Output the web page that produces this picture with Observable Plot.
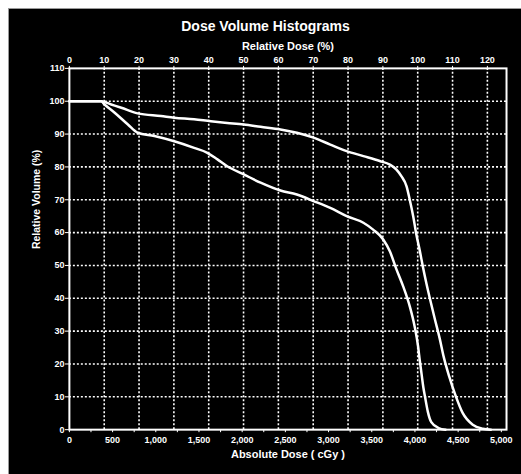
<!DOCTYPE html>
<html>
<head>
<meta charset="utf-8">
<script src="https://cdn.jsdelivr.net/npm/d3@7"></script>
<script src="https://cdn.jsdelivr.net/npm/@observablehq/plot@0.6"></script>
<style>
  html, body { margin: 0; padding: 0; background: #fff; }
  #panel { position: absolute; left: 8px; top: 8px; width: 513px; height: 466px; background: #000;
           border-top: 1px solid #9a9a9a; border-left: 1px solid #9a9a9a; box-sizing: border-box; overflow: hidden; }
  #title { position: absolute; left: 0; width: 513px; top: 9px; text-align: center; color: #fff;
           font: bold 14px "Liberation Sans", Arial, sans-serif; }
  #chart { position: absolute; left: -1px; top: -1px; }
</style>
</head>
<body>
<div id="panel">
  <div id="title">Dose Volume Histograms</div>
  <div id="chart"></div>
</div>
<script>
// Conversion: absolute dose (cGy) corresponding to 100 % relative dose
const prescriptionCGy = 4032;

// Relative-dose ticks (top axis, %) and absolute-dose ticks (bottom axis, cGy)
const relativeTicks = d3.range(0, 121, 10);
const absoluteTicks = d3.range(0, 5001, 250);
const volumeTicks = d3.range(0, 111, 10);

// Upper curve: relative dose (%) vs relative volume (%)
const upperDose = [0, 5, 9.1, 12, 14.9, 19.6, 26.3, 30.1, 35.8, 40.6, 45.3, 50.1, 54.9, 60.6, 65.3, 70.1, 74.9, 79.6, 84.4, 89.1, 92, 93.9, 95.3, 96.8, 97.7, 98.7, 99.6, 100.6, 101.5, 102.5, 103.7, 105, 106.3, 107.5, 109.1, 111, 112.9, 115.8, 118.7, 121];
const upperVol  = [100, 100, 100, 99, 98, 96.3, 95.5, 95, 94.5, 93.9, 93.4, 92.9, 92.2, 91.4, 90.4, 88.9, 86.8, 84.8, 83.3, 81.8, 80.7, 79.2, 77.2, 74.1, 70.1, 65, 59.5, 54.5, 49.5, 44.5, 39, 33.3, 27.8, 22, 16, 10, 5.1, 1.5, 0.3, 0];

// Lower curve
const lowerDose = [0, 5, 9.1, 10.1, 13, 16.8, 19.6, 24.4, 30.1, 35.8, 39.6, 42.5, 45.3, 50.1, 54.9, 60.6, 65.3, 70.1, 74.9, 79.6, 84.4, 87.2, 90.1, 92, 93.9, 95.8, 97.7, 99.1, 100.1, 100.6, 101.1, 101.6, 102.1, 102.9, 103.9, 106, 108];
const lowerVol  = [100, 100, 100, 99, 96.5, 92.9, 90.4, 89.4, 87.8, 85.8, 84.3, 82.3, 80.2, 77.7, 75.2, 72.8, 71.6, 69.6, 67.5, 65, 63, 60.9, 57.9, 54.3, 48.8, 43.7, 37.6, 31.5, 25.4, 21, 17, 13, 10, 5.5, 2.3, 0.5, 0];

const upper = upperDose.map((d, i) => ({dose: d, volume: upperVol[i]}));
const lower = lowerDose.map((d, i) => ({dose: d, volume: lowerVol[i]}));

const fmt = d3.format(",");
const font = '"Liberation Sans", Arial, sans-serif';

const chart = Plot.plot({
  width: 514,
  height: 467,
  marginLeft: 61,
  marginRight: 15,
  marginTop: 60,
  marginBottom: 45,
  style: {background: "transparent", color: "white", fontFamily: font, fontWeight: "bold", fontSize: "9px"},
  x: {domain: [0, 5060 / prescriptionCGy * 100]},
  y: {domain: [0, 110]},
  marks: [
    Plot.gridX(relativeTicks.filter(d => d > 0), {stroke: "white", strokeOpacity: 1, strokeWidth: 1.6, strokeDasharray: "2,2"}),
    Plot.gridY(volumeTicks.filter(d => d > 0 && d < 110), {stroke: "white", strokeOpacity: 1, strokeWidth: 1.6, strokeDasharray: "2,2"}),
    Plot.axisX(relativeTicks, {anchor: "top", tickSize: 3, tickPadding: 2, label: null, stroke: "white"}),
    Plot.axisX(absoluteTicks.map(c => c / prescriptionCGy * 100), {
      anchor: "bottom", tickSize: 3, tickPadding: 4, label: null, stroke: "white",
      tickFormat: d => { const c = Math.round(d * prescriptionCGy / 100 / 250) * 250; return c % 500 === 0 ? fmt(c) : ""; }
    }),
    Plot.axisY(volumeTicks, {anchor: "left", tickSize: 4, tickPadding: 1, label: null, stroke: "white"}),
    Plot.frame({stroke: "white", strokeWidth: 2}),
    Plot.line(upper, {x: "dose", y: "volume", stroke: "white", strokeWidth: 2.5, curve: "monotone-x"}),
    Plot.line(lower, {x: "dose", y: "volume", stroke: "white", strokeWidth: 2.5, curve: "monotone-x"}),
    Plot.text(["Relative Dose (%)"], {frameAnchor: "top", dy: -22, lineAnchor: "middle", fill: "white", fontSize: 11, fontWeight: "bold"}),
    Plot.text(["Absolute Dose ( cGy )"], {frameAnchor: "bottom", dy: 25, lineAnchor: "middle", fill: "white", fontSize: 11, fontWeight: "bold"}),
    Plot.text(["Relative Volume (%)"], {frameAnchor: "left", dx: -33, rotate: -90, lineAnchor: "middle", fill: "white", fontSize: 10.5, fontWeight: "bold"})
  ]
});
document.getElementById("chart").appendChild(chart);
</script>
</body>
</html>
